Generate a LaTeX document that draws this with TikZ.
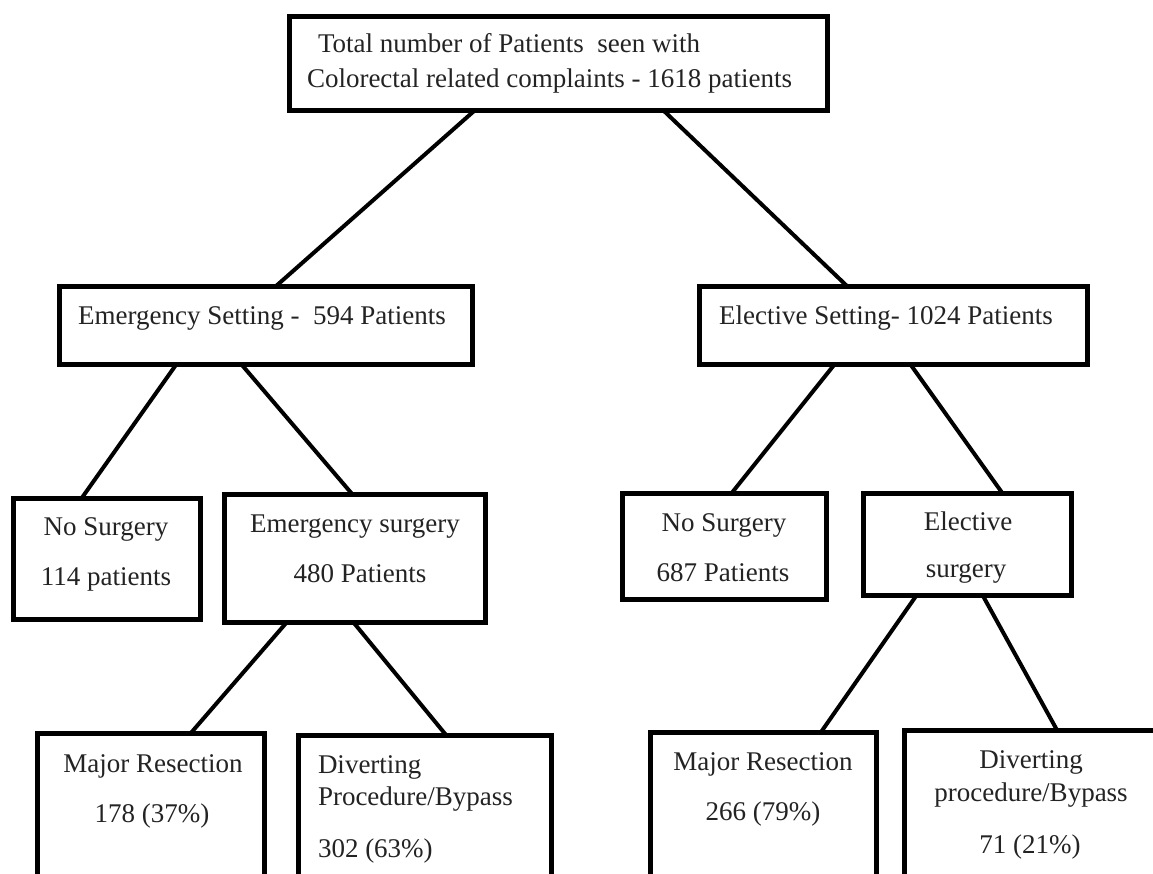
\documentclass[tikz,border=0pt]{standalone}
\usepackage{fontspec}
\setmainfont{Liberation Serif}
\usetikzlibrary{calc}
\begin{document}
\begin{tikzpicture}[x=1pt,y=1pt,
  box/.style={draw=drawColor,line width=5pt,inner sep=0pt,outer sep=0pt},
  link/.style={draw=drawColor,line width=4pt},
  lbl/.style={text=textColor,anchor=base,inner sep=0pt,outer sep=0pt,font=\fontsize{27}{32}\selectfont}]
\definecolor{fillColor}{RGB}{255,255,255}
\definecolor{drawColor}{RGB}{0,0,0}
\definecolor{textColor}{RGB}{35,35,35}
\path[use as bounding box,fill=fillColor] (0,0) rectangle (1153,873);
\clip (0,0) rectangle (1153,873);

% boxes
\node[box,minimum width=538pt,minimum height=94pt] (total) at (558,809) {};

\node[box,minimum width=413pt,minimum height=78pt] (emerg) at (265.5,547) {};

\node[box,minimum width=388pt,minimum height=78pt] (elect) at (893,547) {};

\node[box,minimum width=187pt,minimum height=121pt] (emNone) at (106.5,313.5) {};

\node[box,minimum width=261pt,minimum height=128pt] (emSurg) at (354.5,314) {};

\node[box,minimum width=204pt,minimum height=106pt] (elNone) at (724,326) {};

\node[box,minimum width=208pt,minimum height=102pt] (elSurg) at (967,328) {};

\node[box,minimum width=227pt,minimum height=167pt] (emMajor) at (150.5,56.5) {};

\node[box,minimum width=253pt,minimum height=165pt] (emDivert) at (424.5,55.5) {};

\node[box,minimum width=226pt,minimum height=168pt] (elMajor) at (763,57) {};

\node[box,minimum width=261pt,minimum height=170pt] (elDivert) at (1034.5,58) {};

% texts
\node[lbl,anchor=base west] (total-a) at (318,820) {Total number of Patients\ \ seen with};

\node[lbl,anchor=base west] (total-b) at (307,785) {Colorectal related complaints - 1618 patients};

\node[lbl] (emerg-a) at (262,548) {Emergency Setting -\ \ 594 Patients};

\node[lbl] (elect-a) at (886,548) {Elective Setting- 1024 Patients};

\node[lbl] (emNone-a) at (106,337) {No Surgery};

\node[lbl] (emNone-b) at (106,287) {114 patients};

\node[lbl] (emSurg-a) at (355,340) {Emergency surgery};

\node[lbl] (emSurg-b) at (360,290) {480 Patients};

\node[lbl] (elNone-a) at (724,341) {No Surgery};

\node[lbl] (elNone-b) at (723,291) {687 Patients};

\node[lbl] (elSurg-a) at (968,342) {Elective};

\node[lbl] (elSurg-b) at (966,295) {surgery};

\node[lbl] (emMajor-a) at (153,101) {Major Resection};

\node[lbl] (emMajor-b) at (152,51) {178 (37\%)};

\node[lbl,anchor=base west] (emDivert-a) at (318,100) {Diverting};

\node[lbl,anchor=base west] (emDivert-b) at (318,68) {Procedure/Bypass};

\node[lbl,anchor=base west] (emDivert-c) at (318,16) {302 (63\%)};

\node[lbl] (elMajor-a) at (763,103) {Major Resection};

\node[lbl] (elMajor-b) at (763,53) {266 (79\%)};

\node[lbl] (elDivert-a) at (1031,105) {Diverting};

\node[lbl] (elDivert-b) at (1031,72) {procedure/Bypass};

\node[lbl] (elDivert-c) at (1030,20) {71 (21\%)};

% connectors
\draw[link] ($(total.south west)!0.344!(total.south east)$) -- ($(emerg.north west)!0.523!(emerg.north east)$);

\draw[link] ($(total.south west)!0.697!(total.south east)$) -- ($(elect.north west)!0.384!(elect.north east)$);

\draw[link] ($(emerg.south west)!0.283!(emerg.south east)$) -- ($(emNone.north west)!0.364!(emNone.north east)$);

\draw[link] ($(emerg.south west)!0.443!(emerg.south east)$) -- ($(emSurg.north west)!0.494!(emSurg.north east)$);

\draw[link] ($(elect.south west)!0.348!(elect.south east)$) -- ($(elNone.north west)!0.534!(elNone.north east)$);

\draw[link] ($(elect.south west)!0.546!(elect.south east)$) -- ($(elSurg.north west)!0.673!(elSurg.north east)$);

\draw[link] ($(emSurg.south west)!0.238!(emSurg.south east)$) -- ($(emMajor.north west)!0.678!(emMajor.north east)$);

\draw[link] ($(emSurg.south west)!0.498!(emSurg.south east)$) -- ($(emDivert.north west)!0.585!(emDivert.north east)$);

\draw[link] ($(elSurg.south west)!0.255!(elSurg.south east)$) -- ($(elMajor.north west)!0.757!(elMajor.north east)$);

\draw[link] ($(elSurg.south west)!0.577!(elSurg.south east)$) -- ($(elDivert.north west)!0.586!(elDivert.north east)$);
\end{tikzpicture}
\end{document}
